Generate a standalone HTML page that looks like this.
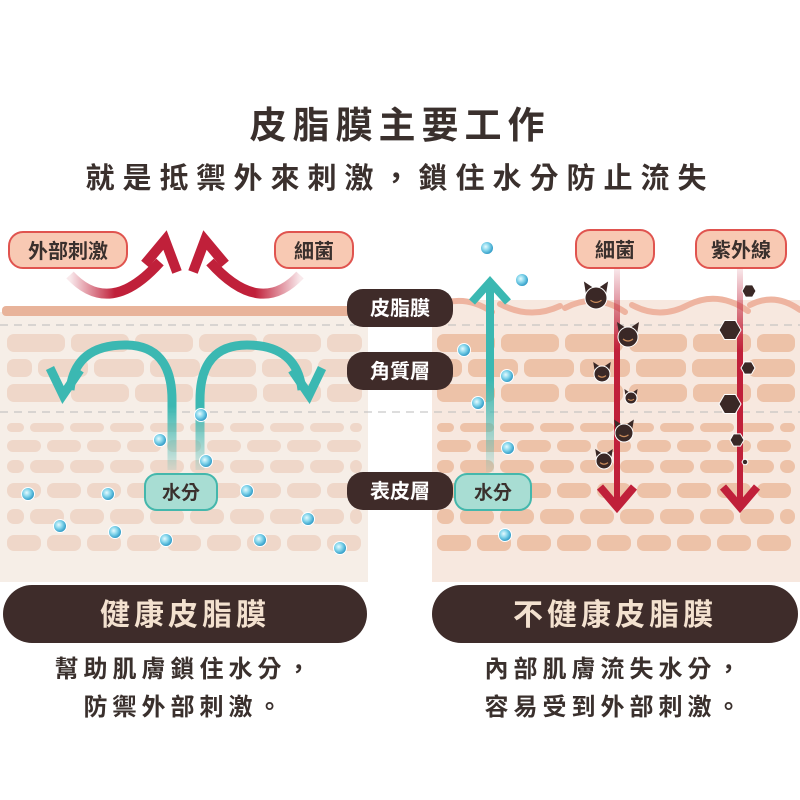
<!DOCTYPE html>
<html><head><meta charset="utf-8"><style>
body{margin:0;background:#fff;width:800px;height:800px;overflow:hidden}
svg{display:block}
text{font-family:"Liberation Sans","Noto Sans CJK TC",sans-serif;font-weight:bold}
</style></head><body>
<svg id="s" width="800" height="800" viewBox="0 0 800 800">
<defs>
<radialGradient id="dot" cx="40%" cy="40%" r="60%"><stop offset="0" stop-color="#e6fbff"/><stop offset="0.5" stop-color="#7fd3ea"/><stop offset="1" stop-color="#2b97c4"/></radialGradient>
<linearGradient id="redL" x1="0" x2="1"><stop offset="0" stop-color="#c0203a" stop-opacity="0.1"/><stop offset="0.5" stop-color="#c0203a"/><stop offset="1" stop-color="#c0203a"/></linearGradient>
<linearGradient id="redR" x1="1" x2="0"><stop offset="0" stop-color="#c0203a" stop-opacity="0.1"/><stop offset="0.5" stop-color="#c0203a"/><stop offset="1" stop-color="#c0203a"/></linearGradient>
<linearGradient id="redV" gradientUnits="userSpaceOnUse" x1="0" y1="268" x2="0" y2="505"><stop offset="0" stop-color="#c0203a" stop-opacity="0.1"/><stop offset="0.35" stop-color="#c0203a"/><stop offset="1" stop-color="#c0203a"/></linearGradient>
<linearGradient id="tealV" gradientUnits="userSpaceOnUse" x1="0" y1="472" x2="0" y2="340"><stop offset="0" stop-color="#3bb8b2" stop-opacity="0.1"/><stop offset="0.5" stop-color="#3bb8b2"/><stop offset="1" stop-color="#3bb8b2"/></linearGradient>
<linearGradient id="tealV2" gradientUnits="userSpaceOnUse" x1="0" y1="472" x2="0" y2="285"><stop offset="0" stop-color="#3bb8b2" stop-opacity="0.1"/><stop offset="0.5" stop-color="#3bb8b2"/><stop offset="1" stop-color="#3bb8b2"/></linearGradient>
</defs>
<text x="400" y="138" text-anchor="middle" font-size="37" fill="#3a302d" letter-spacing="6">皮脂膜主要工作</text>
<text x="400" y="188" text-anchor="middle" font-size="29" fill="#3a302d" letter-spacing="8">就是抵禦外來刺激，鎖住水分防止流失</text>
<rect x="0" y="312" width="368" height="270" fill="#f6eee7"/>
<rect x="432" y="300" width="368" height="282" fill="#f7e8df"/>
<g id="bl"></g><g id="br"></g>
<rect x="2" y="306" width="366" height="10" rx="4" fill="#e8b39a"/>
<line x1="0" y1="325" x2="800" y2="325" stroke="#bbb" stroke-dasharray="8 6" stroke-width="1"/>
<line x1="0" y1="412" x2="800" y2="412" stroke="#bbb" stroke-dasharray="8 6" stroke-width="1"/>
<path d="M432 308 Q462 292 492 312 M500 304 Q530 320 560 306 M565 308 Q595 292 625 312 M632 305 Q660 320 688 305 M688 305 Q718 290 748 311 M750 305 Q775 292 800 310" stroke="#eeb4a0" stroke-width="6" fill="none" stroke-linecap="round"/>
<path d="M70 275 Q110 318 160 262" stroke="url(#redL)" stroke-width="10" fill="none"/>
<path d="M145 264 L165 240 L177 272" stroke="#c0203a" stroke-width="10" fill="none"/>
<path d="M300 275 Q260 318 210 262" stroke="url(#redR)" stroke-width="10" fill="none"/>
<path d="M225 264 L205 240 L193 272" stroke="#c0203a" stroke-width="10" fill="none"/>
<path d="M172 470 L172 400 Q172 345 125 345 Q75 345 70 390" stroke="url(#tealV)" stroke-width="9" fill="none"/>
<path d="M50 368 L63 395 L80 370" stroke="#3bb8b2" stroke-width="9" fill="none"/>
<path d="M200 470 L200 400 Q200 345 247 345 Q297 345 302 390" stroke="url(#tealV)" stroke-width="9" fill="none"/>
<path d="M322 368 L309 395 L292 370" stroke="#3bb8b2" stroke-width="9" fill="none"/>
<path d="M490 472 L490 285" stroke="url(#tealV2)" stroke-width="8" fill="none"/>
<path d="M472 302 L490 282 L508 302" stroke="#3bb8b2" stroke-width="8" fill="none"/>
<path d="M617 268 L617 505" stroke="url(#redV)" stroke-width="6"/>
<path d="M600 487 L617 507 L634 487" stroke="#c0203a" stroke-width="8" fill="none"/>
<path d="M740 268 L740 505" stroke="url(#redV)" stroke-width="6"/>
<path d="M723 487 L740 507 L757 487" stroke="#c0203a" stroke-width="8" fill="none"/>
<g id="dots"></g><g id="bugs"></g>
<rect x="9" y="232" width="118" height="36" rx="14" fill="#f8c9b3" stroke="#e0544f" stroke-width="2"/>
<text x="68" y="258" text-anchor="middle" font-size="20" fill="#3a302d">外部刺激</text>
<rect x="275" y="232" width="78" height="36" rx="14" fill="#f8c9b3" stroke="#e0544f" stroke-width="2"/>
<text x="314" y="258" text-anchor="middle" font-size="20" fill="#3a302d">細菌</text>
<rect x="576" y="230" width="78" height="38" rx="14" fill="#f8c9b3" stroke="#e0544f" stroke-width="2"/>
<text x="615" y="257" text-anchor="middle" font-size="20" fill="#3a302d">細菌</text>
<rect x="696" y="230" width="90" height="38" rx="14" fill="#f8c9b3" stroke="#e0544f" stroke-width="2"/>
<text x="741" y="257" text-anchor="middle" font-size="20" fill="#3a302d">紫外線</text>
<rect x="347" y="289" width="106" height="38" rx="16" fill="#3f2b29"/>
<text x="400" y="315" text-anchor="middle" font-size="20" fill="#fff">皮脂膜</text>
<rect x="347" y="352" width="106" height="38" rx="16" fill="#3f2b29"/>
<text x="400" y="378" text-anchor="middle" font-size="20" fill="#fff">角質層</text>
<rect x="347" y="472" width="106" height="38" rx="16" fill="#3f2b29"/>
<text x="400" y="498" text-anchor="middle" font-size="20" fill="#fff">表皮層</text>
<rect x="145" y="474" width="72" height="36" rx="12" fill="#a8ddd3" stroke="#44b7ac" stroke-width="2"/>
<text x="181" y="499" text-anchor="middle" font-size="19" fill="#3a302d">水分</text>
<rect x="455" y="474" width="76" height="36" rx="12" fill="#a8ddd3" stroke="#44b7ac" stroke-width="2"/>
<text x="493" y="499" text-anchor="middle" font-size="19" fill="#3a302d">水分</text>
<rect x="3" y="585" width="364" height="58" rx="29" fill="#3e2c2a"/>
<text x="185" y="625" text-anchor="middle" font-size="30" fill="#f3e1cf" letter-spacing="4">健康皮脂膜</text>
<rect x="432" y="585" width="366" height="58" rx="29" fill="#3e2c2a"/>
<text x="615" y="625" text-anchor="middle" font-size="30" fill="#f3e1cf" letter-spacing="4">不健康皮脂膜</text>
<text x="185" y="677" text-anchor="middle" font-size="24" fill="#3a302d" font-weight="normal" letter-spacing="5">幫助肌膚鎖住水分，</text>
<text x="185" y="715" text-anchor="middle" font-size="24" fill="#3a302d" font-weight="normal" letter-spacing="5">防禦外部刺激。</text>
<text x="615" y="677" text-anchor="middle" font-size="24" fill="#3a302d" font-weight="normal" letter-spacing="5">內部肌膚流失水分，</text>
<text x="615" y="715" text-anchor="middle" font-size="24" fill="#3a302d" font-weight="normal" letter-spacing="5">容易受到外部刺激。</text>
</svg>
<script>
var NS="http://www.w3.org/2000/svg";
function el(p,t,a){var e=document.createElementNS(NS,t);for(var k in a)e.setAttribute(k,a[k]);p.appendChild(e);return e;}
var rows=[[334,18,58],[359,18,50],[384,18,58],[423,9,34],[440,12,34],[460,13,34],[483,15,34],[509,15,34],[535,16,34]];
function bricks(g,x0,x1,col){rows.forEach(function(r,i){var w=r[2],off=(i%2)?-w/2:0;for(var x=x0+off;x<x1;x+=w+6){var a=Math.max(x,x0),b=Math.min(x+w,x1);if(b-a>6)el(g,"rect",{x:a,y:r[0],width:b-a,height:r[1],rx:Math.min(7,r[1]/2),fill:col});}});}
bricks(document.getElementById("bl"),7,362,"#efd7c9");
bricks(document.getElementById("br"),437,795,"#edc2a8");
var d=[[28,494],[108,494],[60,526],[115,532],[166,540],[160,440],[201,415],[206,461],[247,491],[308,519],[260,540],[340,548],[487,248],[522,280],[464,350],[507,376],[478,403],[508,448],[505,535]];
var dg=document.getElementById("dots");d.forEach(function(p){el(dg,"circle",{cx:p[0],cy:p[1],r:6.5,fill:"url(#dot)",stroke:"#fff","stroke-width":1});});
var bg=document.getElementById("bugs");
[[596,298,11],[628,337,10],[602,374,8],[631,398,6],[624,433,9],[604,461,8]].forEach(function(b){var x=b[0],y=b[1],r=b[2];el(bg,"polygon",{points:(x-r*.9)+","+(y-r*.3)+" "+(x-r*1.1)+","+(y-r*1.5)+" "+(x-r*.2)+","+(y-r*.9),fill:"#3a2826"});el(bg,"polygon",{points:(x+r*.9)+","+(y-r*.3)+" "+(x+r*1.1)+","+(y-r*1.5)+" "+(x+r*.2)+","+(y-r*.9),fill:"#3a2826"});el(bg,"circle",{cx:x,cy:y,r:r,fill:"#3a2826",stroke:"#fff","stroke-width":1});el(bg,"path",{d:"M"+(x-r*.5)+" "+(y+r*.2)+" Q"+x+" "+(y+r*.6)+" "+(x+r*.5)+" "+(y+r*.2),stroke:"#c98a5a","stroke-width":1.2,fill:"none"});});
[[749,291,7],[730,330,11],[748,368,7],[730,404,11],[737,440,7],[745,462,3]].forEach(function(h){var p=[];for(var i=0;i<6;i++){var a=Math.PI/3*i;p.push((h[0]+h[2]*Math.cos(a)).toFixed(1)+","+(h[1]+h[2]*Math.sin(a)).toFixed(1));}el(bg,"polygon",{points:p.join(" "),fill:"#3a2826",stroke:"#fff","stroke-width":1});});
</script>
</body></html>
